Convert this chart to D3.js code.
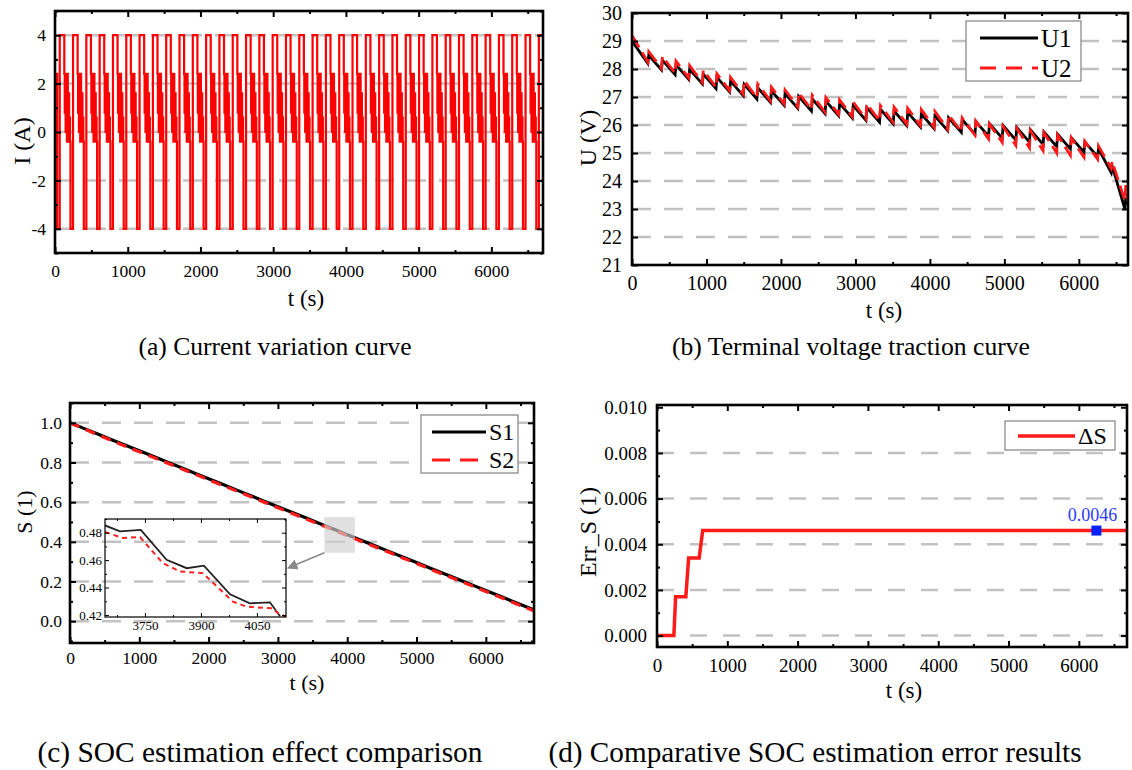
<!DOCTYPE html>
<html>
<head>
<meta charset="utf-8">
<script src="https://cdnjs.cloudflare.com/ajax/libs/d3/7.8.5/d3.min.js"></script>
<style>
body { margin: 0; background: #fff; }
svg text { font-family: "Liberation Serif", "Times New Roman", serif; fill: #000; }
</style>
</head>
<body>
<script>
// ---------- data ----------
var cycleStarts = [30, 213, 396, 579, 762, 945, 1128, 1311, 1494, 1677, 1860, 2043, 2226, 2409,
  2592, 2775, 2958, 3141, 3324, 3507, 3690, 3873, 4056, 4239, 4422, 4605, 4788, 4971, 5154,
  5337, 5520, 5703, 5886, 6069, 6252, 6435, 6618];

// one current pulse cycle: offset in s from cycle start, level in A
var pulseOffsets = [0, 35, 98, 104, 110, 116, 122, 128, 134, 140, 146, 152, 158, 164, 170, 176];
var pulseLevels  = [-4, 4, 2.4, 0.8, 2.4, 0.0, 2.4, 1.2, -0.4, 2.4, 0.4, -0.4, 1.6, -0.4, 0.6, -0.4];

// terminal voltage, peak after each pulse and trough at end of each cycle
var u1Peak = [29.0, 28.49, 28.32, 28.15, 27.99, 27.82, 27.70, 27.57, 27.45, 27.33, 27.22, 27.12,
  27.02, 26.93, 26.85, 26.77, 26.69, 26.62, 26.56, 26.50, 26.45, 26.39, 26.32, 26.26, 26.19,
  26.12, 26.05, 25.98, 25.91, 25.83, 25.75, 25.67, 25.55, 25.39, 25.15, 24.55, 23.4];
var u1Trough = [28.20, 27.97, 27.80, 27.63, 27.47, 27.30, 27.18, 27.05, 26.93, 26.81, 26.70, 26.60,
  26.50, 26.41, 26.33, 26.25, 26.17, 26.10, 26.04, 25.98, 25.93, 25.87, 25.80, 25.74, 25.67,
  25.60, 25.53, 25.46, 25.39, 25.31, 25.23, 25.15, 25.03, 24.87, 24.30, 23.00, 22.9];
var u2Peak = [29.2, 28.62, 28.45, 28.28, 28.12, 27.95, 27.83, 27.70, 27.58, 27.46, 27.35, 27.25,
  27.15, 27.06, 26.98, 26.90, 26.82, 26.75, 26.69, 26.64, 26.60, 26.55, 26.48, 26.36, 26.25,
  26.14, 26.03, 25.95, 25.88, 25.80, 25.72, 25.64, 25.54, 25.42, 25.25, 24.70, 23.85];
var u2Trough = [28.25, 28.02, 27.85, 27.68, 27.52, 27.35, 27.23, 27.10, 26.98, 26.86, 26.75, 26.65,
  26.55, 26.46, 26.38, 26.30, 26.22, 26.15, 26.09, 26.03, 25.98, 25.92, 25.85, 25.76, 25.64,
  25.50, 25.38, 25.27, 25.18, 25.08, 25.00, 24.92, 24.85, 24.78, 24.45, 23.30, 22.5];

// SOC curves
var socTime = [0, 200, 400, 600, 800, 1000, 1200, 1400, 1600, 1800, 2000, 2200, 2400, 2600,
  2800, 3000, 3200, 3400, 3600, 3800, 4000, 4200, 4400, 4600, 4800, 5000, 5200, 5400, 5600,
  5800, 6000, 6200, 6400, 6600, 6700];
var s1 = [1.000, 0.972, 0.944, 0.915, 0.887, 0.859, 0.831, 0.803, 0.775, 0.746, 0.718, 0.690,
  0.662, 0.634, 0.605, 0.577, 0.549, 0.521, 0.493, 0.465, 0.436, 0.408, 0.380, 0.352, 0.324,
  0.296, 0.267, 0.239, 0.211, 0.183, 0.155, 0.127, 0.098, 0.070, 0.056];
var s2 = [1.000, 0.970, 0.940, 0.911, 0.882, 0.854, 0.826, 0.798, 0.770, 0.741, 0.713, 0.685,
  0.657, 0.629, 0.600, 0.572, 0.544, 0.516, 0.488, 0.460, 0.431, 0.403, 0.375, 0.347, 0.319,
  0.291, 0.262, 0.234, 0.206, 0.178, 0.150, 0.122, 0.093, 0.065, 0.051];

// inset (zoomed part of the SOC curves)
var zoomT1 = [3643, 3683, 3739, 3808, 3862, 3908, 3978, 4031, 4085, 4112];
var zoomS1 = [0.4853, 0.4810, 0.4820, 0.4602, 0.4541, 0.4560, 0.4351, 0.4285, 0.4292, 0.4190];
var zoomT2 = [3643, 3691, 3737, 3798, 3844, 3905, 3986, 4023, 4093, 4106, 4125];
var zoomS2 = [0.4805, 0.4761, 0.4768, 0.4578, 0.4517, 0.4505, 0.4297, 0.4260, 0.4248, 0.4214, 0.4190];

// SOC error
var errTime = [0, 240, 265, 410, 450, 600, 650, 6700];
var errVal  = [0, 0, 0.0017, 0.0017, 0.0034, 0.0034, 0.0046, 0.0046];
var errMarkT = 6250, errMarkV = 0.0046;

var xMajor = [0, 1000, 2000, 3000, 4000, 5000, 6000];
var xMinor = [500, 1500, 2500, 3500, 4500, 5500, 6500];

// ---------- drawing ----------
var serif = '"Liberation Serif", "Times New Roman", serif';
var svg = d3.select("body").append("svg").attr("width", 1132).attr("height", 770)
  .attr("font-family", serif);

var defs = svg.append("defs");
defs.append("marker").attr("id", "arrowHead").attr("viewBox", "0 0 10 10")
  .attr("refX", 9).attr("refY", 5).attr("markerWidth", 7).attr("markerHeight", 7)
  .attr("orient", "auto")
  .append("path").attr("d", "M0,0 L10,5 L0,10 z").attr("fill", "#8a8a8a");

function buildPanel(p) {
  var g = svg.append("g").attr("transform", "translate(" + p.left + "," + p.top + ")");
  var x = d3.scaleLinear().domain(p.xDomain).range([0, p.width]);
  var y = d3.scaleLinear().domain(p.yDomain).range([p.height, 0]);

  // dashed horizontal grid
  g.append("g").selectAll("line").data(p.grid).enter().append("line")
    .attr("x1", 0).attr("x2", p.width)
    .attr("y1", function(d) { return y(d); }).attr("y2", function(d) { return y(d); })
    .attr("stroke", "#c2c2c2").attr("stroke-width", 2.5)
    .attr("stroke-dasharray", p.dash || "19,13");

  g.append("clipPath").attr("id", "clip" + p.name)
    .append("rect").attr("width", p.width).attr("height", p.height);
  var plot = g.append("g").attr("clip-path", "url(#clip" + p.name + ")");

  return { g: g, plot: plot, x: x, y: y, p: p };
}

// ticks point inwards on all four sides, frame on top
function drawAxes(P) {
  var g = P.g, x = P.x, y = P.y, p = P.p;
  var major = p.majorLen || 6, minor = p.minorLen || 3;

  function styleAxis(sel, fs) {
    sel.select(".domain").remove();
    sel.selectAll("line").attr("stroke", "#000").attr("stroke-width", p.tickWidth || 2);
    sel.attr("font-size", fs).attr("font-family", serif);
    sel.selectAll("text").attr("fill", "#000");
  }

  g.append("g").attr("transform", "translate(0," + p.height + ")")
    .call(d3.axisBottom(x).tickValues(p.xMajor).tickSize(-major).tickPadding(p.xPad)
      .tickFormat(function(d) { return String(d); }))
    .call(styleAxis, p.fs);
  g.append("g").attr("transform", "translate(0," + p.height + ")")
    .call(d3.axisBottom(x).tickValues(p.xMinor).tickSize(-minor).tickFormat(""))
    .call(styleAxis, p.fs);
  g.append("g")
    .call(d3.axisTop(x).tickValues(p.xMajor).tickSize(-major).tickFormat(""))
    .call(styleAxis, p.fs);
  g.append("g")
    .call(d3.axisTop(x).tickValues(p.xMinor).tickSize(-minor).tickFormat(""))
    .call(styleAxis, p.fs);

  g.append("g")
    .call(d3.axisLeft(y).tickValues(p.yMajor).tickSize(-major).tickPadding(p.yPad).tickFormat(p.yFmt))
    .call(styleAxis, p.fs);
  g.append("g")
    .call(d3.axisLeft(y).tickValues(p.yMinor).tickSize(-minor).tickFormat(""))
    .call(styleAxis, p.fs);
  g.append("g").attr("transform", "translate(" + p.width + ",0)")
    .call(d3.axisRight(y).tickValues(p.yMajor).tickSize(-major).tickFormat(""))
    .call(styleAxis, p.fs);
  g.append("g").attr("transform", "translate(" + p.width + ",0)")
    .call(d3.axisRight(y).tickValues(p.yMinor).tickSize(-minor).tickFormat(""))
    .call(styleAxis, p.fs);

  g.append("rect").attr("width", p.width).attr("height", p.height)
    .attr("fill", "none").attr("stroke", "#000").attr("stroke-width", p.frameWidth || 2.6);
}

function addText(txt, x, y, size, opts) {
  opts = opts || {};
  var t = svg.append("text").attr("x", x).attr("y", y)
    .attr("font-size", size).attr("text-anchor", opts.anchor || "middle").text(txt);
  if (opts.rotate) t.attr("transform", "rotate(-90," + x + "," + y + ")").attr("dy", "0.35em");
  if (opts.len) t.attr("textLength", opts.len).attr("lengthAdjust", "spacingAndGlyphs");
  return t;
}

function legend(box, items, fs) {
  svg.append("rect").attr("x", box[0]).attr("y", box[1]).attr("width", box[2]).attr("height", box[3])
    .attr("fill", "#fff").attr("stroke", "#8c8c8c").attr("stroke-width", 1.3);
  items.forEach(function(it) {
    svg.append("line").attr("x1", it.x1).attr("x2", it.x2).attr("y1", it.y).attr("y2", it.y)
      .attr("stroke", it.color).attr("stroke-width", it.width)
      .attr("stroke-dasharray", it.dash || null);
    svg.append("text").attr("x", it.x2 + 3).attr("y", it.y).attr("dy", "0.35em")
      .attr("font-size", fs).text(it.label);
  });
}

// ===== (a) current =====
var A = buildPanel({ name: "a", left: 55, top: 11, width: 488, height: 242,
  xDomain: [0, 6710], yDomain: [-5, 5], grid: [-4, -2, 0, 2, 4] });

var curPts = [[0, 2.4]];
cycleStarts.forEach(function(s) {
  pulseOffsets.forEach(function(o, k) { curPts.push([s + o, pulseLevels[k]]); });
});
curPts.push([6800, pulseLevels[0]]);

A.plot.append("path")
  .attr("d", d3.line().curve(d3.curveStepAfter)
    .x(function(d) { return A.x(d[0]); }).y(function(d) { return A.y(d[1]); })(curPts))
  .attr("fill", "none").attr("stroke", "#ff0000").attr("stroke-width", 2.2);

drawAxes({ g: A.g, x: A.x, y: A.y, p: Object.assign(A.p, {
  xMajor: xMajor, xMinor: xMinor, yMajor: [-4, -2, 0, 2, 4], yMinor: [-5, -3, -1, 1, 3, 5],
  fs: 17.5, xPad: 12, yPad: 9, yFmt: function(d) { return String(d); } }) });

addText("t (s)", 306, 306, 23);
addText("I (A)", 22, 141, 24, { rotate: true });
addText("(a) Current variation curve", 275, 355, 25, { len: 273 });

// ===== (b) terminal voltage =====
var B = buildPanel({ name: "b", left: 632, top: 13, width: 496, height: 252,
  xDomain: [0, 6660], yDomain: [21, 30], grid: [22, 23, 24, 25, 26, 27, 28, 29] });

function sawPoints(peak, trough) {
  var pts = [];
  cycleStarts.forEach(function(s, i) {
    var next = i < cycleStarts.length - 1 ? cycleStarts[i + 1] : 6700;
    pts.push([i > 0 ? s + 12 : 0, peak[i]]);
    pts.push([next, trough[i]]);
  });
  return pts;
}

var bLine = d3.line().x(function(d) { return B.x(d[0]); }).y(function(d) { return B.y(d[1]); });
B.plot.append("path").attr("d", bLine(sawPoints(u1Peak, u1Trough)))
  .attr("fill", "none").attr("stroke", "#000").attr("stroke-width", 2.8);
B.plot.append("path").attr("d", bLine(sawPoints(u2Peak, u2Trough)))
  .attr("fill", "none").attr("stroke", "#ff1a1a").attr("stroke-width", 2.8)
  .attr("stroke-dasharray", "14,6");

drawAxes({ g: B.g, x: B.x, y: B.y, p: Object.assign(B.p, {
  xMajor: xMajor, xMinor: xMinor, yMajor: d3.range(21, 31), yMinor: [],
  fs: 20, xPad: 11, yPad: 10, yFmt: function(d) { return String(d); } }) });

legend([966, 21, 115, 60], [
  { x1: 980, x2: 1038, y: 38, color: "#000", width: 3.2, label: "U1" },
  { x1: 980, x2: 1038, y: 68, color: "#ff1a1a", width: 3.2, dash: "16,10", label: "U2" }
], 25);

addText("t (s)", 884, 318, 23);
addText("U (V)", 588, 138, 24, { rotate: true });
addText("(b) Terminal voltage traction curve", 851, 355, 25, { len: 358 });

// ===== (c) SOC comparison =====
var C = buildPanel({ name: "c", left: 70, top: 403, width: 464, height: 240,
  xDomain: [0, 6695], yDomain: [-0.11, 1.1], grid: [0, 0.2, 0.4, 0.6, 0.8, 1.0] });

var cLine = d3.line().x(function(d, i) { return C.x(socTime[i]); }).y(function(d) { return C.y(d); });
C.plot.append("path").attr("d", cLine(s1))
  .attr("fill", "none").attr("stroke", "#000").attr("stroke-width", 3.2);
C.plot.append("path").attr("d", cLine(s2))
  .attr("fill", "none").attr("stroke", "#ff1a1a").attr("stroke-width", 3.2)
  .attr("stroke-dasharray", "10,7");

// highlighted region and arrow to the inset
var hl = { t0: 3670, t1: 4110, v0: 0.345, v1: 0.525 };
C.g.append("rect")
  .attr("x", C.x(hl.t0)).attr("y", C.y(hl.v1))
  .attr("width", C.x(hl.t1) - C.x(hl.t0)).attr("height", C.y(hl.v0) - C.y(hl.v1))
  .attr("fill", "#cfcfcf").attr("opacity", 0.65);

drawAxes({ g: C.g, x: C.x, y: C.y, p: Object.assign(C.p, {
  xMajor: xMajor, xMinor: xMinor, yMajor: [0, 0.2, 0.4, 0.6, 0.8, 1.0],
  yMinor: [-0.1, 0.1, 0.3, 0.5, 0.7, 0.9, 1.1],
  fs: 17.5, xPad: 9, yPad: 8, yFmt: d3.format(".1f") }) });

// inset
var ins = { left: 105, top: 519, width: 181, height: 98 };
var insG = svg.append("g").attr("transform", "translate(" + ins.left + "," + ins.top + ")");
var ix = d3.scaleLinear().domain([3643, 4128]).range([0, ins.width]);
var iy = d3.scaleLinear().domain([0.4185, 0.49]).range([ins.height, 0]);
insG.append("clipPath").attr("id", "clipInset")
  .append("rect").attr("width", ins.width).attr("height", ins.height);
var insPlot = insG.append("g").attr("clip-path", "url(#clipInset)");
insPlot.append("path")
  .attr("d", d3.line().x(function(d, i) { return ix(zoomT1[i]); }).y(function(d) { return iy(d); })(zoomS1))
  .attr("fill", "none").attr("stroke", "#222").attr("stroke-width", 1.8);
insPlot.append("path")
  .attr("d", d3.line().x(function(d, i) { return ix(zoomT2[i]); }).y(function(d) { return iy(d); })(zoomS2))
  .attr("fill", "none").attr("stroke", "#ff2020").attr("stroke-width", 2)
  .attr("stroke-dasharray", "5,4");

drawAxes({ g: insG, x: ix, y: iy, p: { width: ins.width, height: ins.height,
  xMajor: [3750, 3900, 4050], xMinor: [3675, 3825, 3975, 4125],
  yMajor: [0.42, 0.44, 0.46, 0.48], yMinor: [0.43, 0.45, 0.47, 0.49],
  fs: 13, xPad: 4, yPad: 3, yFmt: d3.format(".2f"), majorLen: 4, minorLen: 2,
  tickWidth: 1, frameWidth: 1.2 } });
insG.selectAll("text").attr("fill", "#333");

svg.append("line")
  .attr("x1", C.x(hl.t0) + 70).attr("y1", C.y(hl.v0) + 403)
  .attr("x2", ins.left + ins.width + 2).attr("y2", ins.top + ins.height / 2)
  .attr("stroke", "#8a8a8a").attr("stroke-width", 1.5).attr("marker-end", "url(#arrowHead)");

legend([421, 415, 97, 58], [
  { x1: 432, x2: 486, y: 432, color: "#000", width: 3.2, label: "S1" },
  { x1: 432, x2: 486, y: 460, color: "#ff1a1a", width: 3.2, dash: "18,10", label: "S2" }
], 24);

addText("t (s)", 307, 690, 22);
addText("S (1)", 24, 512, 22, { rotate: true });
addText("(c) SOC estimation effect comparison", 260, 762, 29, { len: 445 });

// ===== (d) SOC error =====
var D = buildPanel({ name: "d", left: 657, top: 405, width: 470, height: 242,
  xDomain: [0, 6685], yDomain: [-0.0005, 0.0101], grid: [0, 0.002, 0.004, 0.006, 0.008],
  dash: "17,16" });

D.plot.append("path")
  .attr("d", d3.line().x(function(d, i) { return D.x(errTime[i]); }).y(function(d) { return D.y(d); })(errVal))
  .attr("fill", "none").attr("stroke", "#ff1a1a").attr("stroke-width", 3.5);

D.g.append("rect")
  .attr("x", D.x(errMarkT) - 5).attr("y", D.y(errMarkV) - 5)
  .attr("width", 10).attr("height", 10).attr("fill", "#0022ff");
D.g.append("text")
  .attr("x", D.x(errMarkT) - 4).attr("y", D.y(errMarkV) - 10)
  .attr("text-anchor", "middle").attr("font-size", 18)
  .style("fill", "#2a3cff").text(errMarkV.toFixed(4));

drawAxes({ g: D.g, x: D.x, y: D.y, p: Object.assign(D.p, {
  xMajor: xMajor, xMinor: xMinor, yMajor: [0, 0.002, 0.004, 0.006, 0.008, 0.010],
  yMinor: [0.001, 0.003, 0.005, 0.007, 0.009],
  fs: 19, xPad: 12, yPad: 10, yFmt: d3.format(".3f") }) });

legend([1005, 421, 110, 29], [
  { x1: 1018, x2: 1075, y: 436, color: "#ff1a1a", width: 3.5, label: "\u0394S" }
], 24);

addText("t (s)", 904, 698, 23);
addText("Err_S (1)", 588, 532, 24, { rotate: true });
addText("(d) Comparative SOC estimation error results", 815, 762, 29, { len: 533 });
</script>
</body>
</html>
